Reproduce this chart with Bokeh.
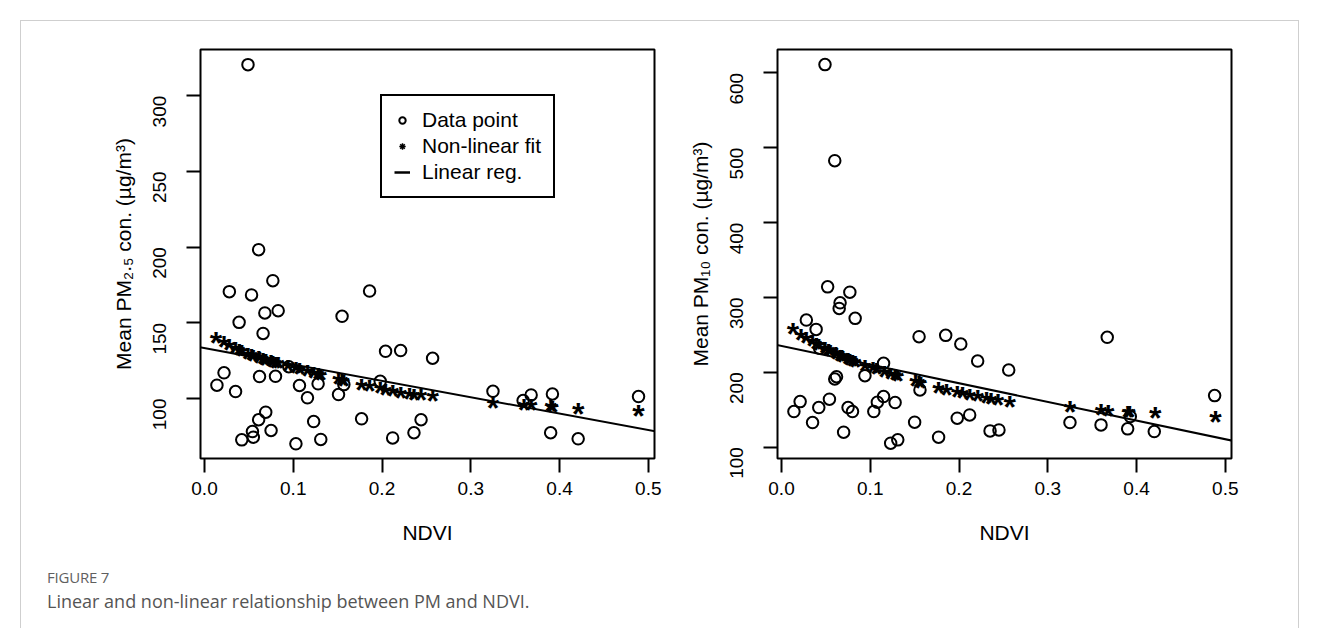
import math
from bokeh.plotting import figure
from bokeh.models import (ColumnDataSource, FixedTicker, PrintfTickFormatter, Slope,
                          Legend, LegendItem, Range1d, Div)
from bokeh.layouts import row, column
from bokeh.core.properties import value
from bokeh.embed import file_html
from bokeh.resources import INLINE

FONT = "Liberation Sans"

# ---------------- data ----------------
x_ticks = [0.0, 0.1, 0.2, 0.3, 0.4, 0.5]
pm25_ticks = [100, 150, 200, 250, 300]
pm10_ticks = [100, 200, 300, 400, 500, 600]

x_limits = (-0.0045, 0.507)
pm25_limits = (60.4, 330.5)
pm10_limits = (84.8, 631.2)

ndvi_pm25 = [0.049, 0.061, 0.028, 0.053, 0.077, 0.068, 0.083, 0.039, 0.066, 0.155,
             0.186, 0.204, 0.221, 0.257, 0.022, 0.014, 0.035, 0.062, 0.080, 0.107,
             0.116, 0.128, 0.151, 0.157, 0.198, 0.069, 0.061, 0.054, 0.042, 0.055,
             0.075, 0.103, 0.123, 0.131, 0.177, 0.212, 0.236, 0.244, 0.325, 0.359,
             0.368, 0.392, 0.390, 0.421, 0.489, 0.095]
pm25_obs = [320.5, 198.3, 170.6, 168.4, 177.8, 156.5, 158.0, 150.3, 143.0, 154.3,
            171.0, 131.2, 131.7, 126.6, 117.0, 108.8, 104.6, 114.5, 114.7, 108.6,
            100.5, 109.7, 102.6, 109.2, 111.4, 91.0, 86.0, 78.2, 72.7, 74.5,
            78.9, 70.1, 84.8, 73.0, 86.6, 74.0, 77.4, 86.0, 104.8, 98.7,
            102.4, 103.0, 77.4, 73.4, 101.3, 121.0]

ndvi_pm10 = [0.049, 0.060, 0.052, 0.077, 0.066, 0.065, 0.083, 0.028, 0.039, 0.155,
             0.185, 0.202, 0.221, 0.256, 0.043, 0.115, 0.062, 0.060, 0.094, 0.156,
             0.021, 0.014, 0.042, 0.054, 0.075, 0.080, 0.035, 0.070, 0.115, 0.108,
             0.104, 0.128, 0.123, 0.131, 0.150, 0.177, 0.198, 0.212, 0.235, 0.245,
             0.367, 0.325, 0.360, 0.390, 0.393, 0.420, 0.488]
pm10_obs = [611.0, 482.7, 314.1, 307.0, 292.8, 285.3, 272.0, 269.7, 257.3, 247.5,
            249.3, 237.7, 215.0, 203.0, 232.0, 212.0, 194.0, 191.0, 195.5, 176.4,
            160.8, 147.5, 152.8, 164.0, 152.8, 147.5, 132.8, 120.0, 167.5, 160.0,
            147.5, 159.5, 105.3, 109.7, 133.3, 113.3, 138.7, 143.0, 121.7, 123.0,
            246.7, 132.8, 129.7, 124.4, 140.8, 120.8, 168.8]

fit_ndvi = [0.013, 0.022, 0.028, 0.035, 0.039, 0.042, 0.049, 0.053, 0.055, 0.061,
            0.062, 0.066, 0.068, 0.069, 0.075, 0.077, 0.080, 0.083, 0.094, 0.103,
            0.107, 0.116, 0.123, 0.128, 0.131, 0.151, 0.155, 0.157, 0.177, 0.186,
            0.198, 0.204, 0.212, 0.221, 0.231, 0.236, 0.244, 0.257, 0.325, 0.360,
            0.368, 0.390, 0.392, 0.421, 0.489]
pm25_fit = [139.5, 136.5, 134.5, 132.5, 131.5, 130.5, 129.0, 128.0, 127.5, 126.5,
            126.0, 125.5, 125.0, 124.8, 124.0, 123.5, 123.0, 122.5, 120.8, 119.5,
            118.8, 117.3, 116.3, 115.5, 115.0, 112.0, 111.5, 111.2, 108.6, 107.5,
            106.0, 105.3, 104.3, 103.3, 102.5, 102.0, 101.5, 101.0, 96.5, 95.0,
            94.8, 94.2, 94.0, 92.7, 91.0]
pm10_fit = [256.0, 249.0, 245.0, 240.0, 237.0, 235.5, 231.0, 228.5, 227.5, 224.0,
            223.5, 221.0, 220.0, 219.5, 216.5, 215.5, 214.0, 212.5, 207.5, 204.0,
            202.5, 199.0, 196.5, 194.5, 193.5, 186.5, 185.0, 184.4, 178.0, 175.5,
            172.0, 170.5, 168.5, 166.5, 164.0, 163.0, 161.0, 159.0, 152.0, 148.0,
            147.5, 146.0, 145.5, 144.0, 139.5]

pm25_lin_intercept, pm25_lin_slope = 133.3, -108.1
pm10_lin_intercept, pm10_lin_slope = 235.3, -249.5

legend_labels = ["Data point", "Non-linear fit", "Linear reg."]
x_title = "NDVI"
pm25_title = "Mean PM\u2082.\u2085 con. (\u00b5g/m\u00b3)"
pm10_title = "Mean PM\u2081\u2080 con. (\u00b5g/m\u00b3)"
fig_label = "FIGURE 7"
caption = "Linear and non-linear relationship between PM and NDVI."

NAN = float("nan")


def make_panel(width, mb_left, mb_right, xs, ys, fx, fy, icpt, slope, ylim, yticks, ytitle):
    p = figure(width=width, height=534, x_range=Range1d(*x_limits), y_range=Range1d(*ylim),
               output_backend="svg", toolbar_location=None,
               min_border_left=mb_left, min_border_right=mb_right,
               min_border_top=28, min_border_bottom=97)
    p.background_fill_color = "white"
    p.border_fill_color = "white"
    p.outline_line_color = "black"
    p.outline_line_width = 2
    p.outline_line_alpha = 1
    p.xgrid.visible = False
    p.ygrid.visible = False

    circ = p.scatter(xs, ys, marker="circle", size=11.5, fill_color=None,
                     line_color="black", line_width=2)
    src = ColumnDataSource(dict(x=fx, y=fy, t=["*"] * len(fx)))
    p.text(x="x", y="y", text="t", source=src, text_font=value(FONT),
           text_font_size="32px", text_font_style="bold", text_align="center",
           text_baseline="alphabetic", y_offset=4, text_color="black")
    p.add_layout(Slope(gradient=slope, y_intercept=icpt, line_color="black", line_width=2))

    for ax in (p.xaxis[0], p.yaxis[0]):
        ax.axis_line_color = None
        ax.major_tick_out = 14
        ax.major_tick_in = 0
        ax.minor_tick_out = 0
        ax.minor_tick_in = 0
        ax.major_tick_line_width = 2
        ax.major_tick_line_color = "black"
        ax.major_label_text_font = FONT
        ax.major_label_text_font_size = "19px"
        ax.major_label_text_color = "black"
        ax.axis_label_text_font = FONT
        ax.axis_label_text_font_size = "21px"
        ax.axis_label_text_font_style = "normal"
        ax.axis_label_text_color = "black"
    p.xaxis.ticker = FixedTicker(ticks=x_ticks)
    p.xaxis.formatter = PrintfTickFormatter(format="%.1f")
    p.xaxis.major_label_standoff = 9
    p.xaxis.axis_label = x_title
    p.xaxis.axis_label_standoff = 23
    p.yaxis.ticker = FixedTicker(ticks=yticks)
    p.yaxis.major_label_orientation = math.pi / 2
    p.yaxis.major_label_standoff = 27
    p.yaxis.axis_label = ytitle
    p.yaxis.axis_label_standoff = 9
    return p, circ


p1, circ1 = make_panel(656, 179, 23, ndvi_pm25, pm25_obs, fit_ndvi, pm25_fit,
                       pm25_lin_intercept, pm25_lin_slope, pm25_limits, pm25_ticks, pm25_title)
p2, circ2 = make_panel(621, 100, 67, ndvi_pm10, pm10_obs, fit_ndvi, pm10_fit,
                       pm10_lin_intercept, pm10_lin_slope, pm10_limits, pm10_ticks, pm10_title)

# legend (left panel) - proxy renderers with no visible points
proxy = ColumnDataSource(dict(x=[NAN], y=[NAN]))
star_proxy = p1.scatter(x="x", y="y", source=proxy, marker="asterisk", size=8,
                        line_color="black", line_width=1.5)
line_proxy = p1.line(x="x", y="y", source=proxy, line_color="black", line_width=2.5)
legend = Legend(items=[LegendItem(label=legend_labels[0], renderers=[circ1]),
                       LegendItem(label=legend_labels[1], renderers=[star_proxy]),
                       LegendItem(label=legend_labels[2], renderers=[line_proxy])],
                location=(180, 260))
legend.border_line_color = "black"
legend.border_line_width = 2
legend.border_line_alpha = 1
legend.background_fill_color = "white"
legend.background_fill_alpha = 1
legend.label_text_font = FONT
legend.label_text_font_size = "21px"
legend.label_text_color = "black"
legend.glyph_width = 16
legend.glyph_height = 22
legend.label_standoff = 12
legend.padding = 12
legend.spacing = 2
legend.margin = 0
p1.add_layout(legend)

cap = Div(text=(f'<div style="font-family:\'Open Sans\';font-size:15px;color:#5f5f5f;'
                f'line-height:18px;letter-spacing:-0.2px">{fig_label}</div>'
                f'<div style="font-family:\'Open Sans\';font-size:18px;color:#555555;'
                f'line-height:24px;margin-top:3px">{caption}</div>'),
          width=1256, height=73, styles={"padding-left": "21px", "padding-top": "8px"})

root = column(row(p1, p2), cap)
root.margin = (20, 0, 0, 20)
root.styles = {"border-top": "1px solid #cfcfcf", "border-left": "1px solid #cfcfcf",
               "border-right": "1px solid #cfcfcf"}

open("out.html", "w").write(file_html(root, INLINE))
